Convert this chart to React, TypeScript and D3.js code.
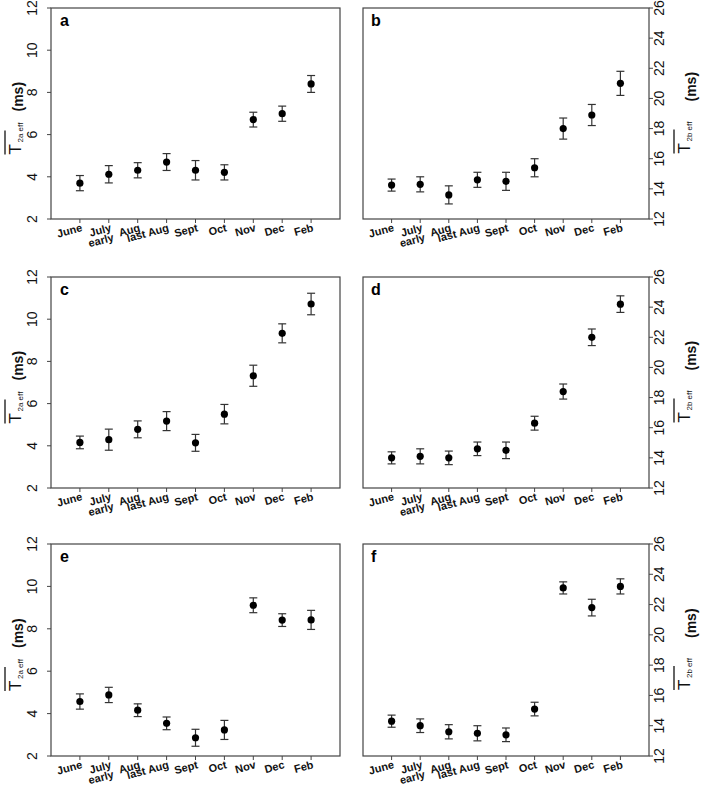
import React from "react";
import * as d3 from "d3";

// category labels (multi-line ones are split into lines)
const months: string[][] = [
  ["June"], ["July", "early"], ["Aug"], ["last Aug"], ["Sept"], ["Oct"], ["Nov"], ["Dec"], ["Feb"]
];

const ticksA = [2, 4, 6, 8, 10, 12];
const ticksB = [12, 14, 16, 18, 20, 22, 24, 26];

const aMean = [3.7, 4.12, 4.31, 4.7, 4.31, 4.21, 6.71, 6.99, 8.4];
const aErr = [0.36, 0.41, 0.36, 0.4, 0.46, 0.36, 0.35, 0.36, 0.4];
const bMean = [14.25, 14.3, 13.6, 14.6, 14.5, 15.4, 18.0, 18.9, 21.0];
const bErr = [0.4, 0.5, 0.6, 0.5, 0.6, 0.6, 0.7, 0.7, 0.8];
const cMean = [4.16, 4.29, 4.78, 5.17, 4.14, 5.5, 7.32, 9.33, 10.72];
const cErr = [0.3, 0.5, 0.4, 0.45, 0.4, 0.46, 0.5, 0.45, 0.51];
const dMean = [14.0, 14.1, 14.0, 14.6, 14.5, 16.3, 18.4, 22.0, 24.2];
const dErr = [0.4, 0.5, 0.45, 0.45, 0.55, 0.46, 0.5, 0.55, 0.55];
const eMean = [4.57, 4.88, 4.16, 3.54, 2.86, 3.23, 9.11, 8.41, 8.42];
const eErr = [0.36, 0.36, 0.3, 0.3, 0.4, 0.45, 0.35, 0.3, 0.45];
const fMean = [14.3, 14.0, 13.6, 13.5, 13.4, 15.1, 23.1, 21.8, 23.2];
const fErr = [0.4, 0.45, 0.47, 0.5, 0.45, 0.45, 0.4, 0.55, 0.5];

const FONT = "'Liberation Sans', Arial, sans-serif";
const AXIS = "#444";

type PanelProps = {
  letter: string;
  x0: number; x1: number; y0: number; y1: number;
  side: "left" | "right";
  mean: number[]; err: number[];
  ticks: number[];
  sub: string;
};

function Panel({ letter, x0, x1, y0, y1, side, mean, err, ticks, sub }: PanelProps) {
  const x = d3.scaleLinear().domain([0, months.length + 1]).range([x0, x1]);
  const y = d3.scaleLinear().domain([ticks[0], ticks[ticks.length - 1]]).range([y1, y0]);
  const axisX = side === "left" ? x0 : x1;
  const dir = side === "left" ? -1 : 1;
  const labelBase = side === "left" ? x0 - 14 : x1 + 15;
  const cy = (y0 + y1) / 2;

  // y title: T with overline, subscript, then (ms)  (screen x of baselines, y offsets from centre)
  const ttl = side === "left"
    ? { ms: 23, t: 21, sub: 23, over: 5, tY: 41, subY: 29, msY: -2 }
    : { ms: 696, t: 690, sub: 692, over: 674, tY: 40, subY: 28, msY: -12 };

  return (
    <g>
      <rect x={x0} y={y0} width={x1 - x0} height={y1 - y0} fill="none" stroke={AXIS} strokeWidth={1.2} />
      <text x={x0 + (side === "left" ? 9 : 8)} y={y0 + 18} fontSize={16} fontWeight="bold" fontFamily={FONT}>{letter}</text>

      {ticks.map(t => (
        <g key={t}>
          <line x1={axisX} x2={axisX + dir * 4} y1={y(t)} y2={y(t)} stroke={AXIS} strokeWidth={1} />
          <text transform={`translate(${labelBase},${y(t)}) rotate(-90)`} textAnchor="middle"
            fontSize={14} fontFamily={FONT} fill="#111">{t}</text>
        </g>
      ))}

      {months.map((m, i) => {
        const px = x(i + 1);
        return (
          <g key={i}>
            <line x1={px} x2={px} y1={y1} y2={y1 + 4} stroke={AXIS} strokeWidth={1} />
            <text transform={`translate(${px + 3},${y1 + 12}) rotate(-15)`} textAnchor="end"
              fontSize={11} fontWeight="bold" fontFamily={FONT} fill="#111">
              {m.map((ln, k) => (
                <tspan key={k} x={0} dy={k === 0 ? 0 : 10}>{ln}</tspan>
              ))}
            </text>
          </g>
        );
      })}

      {mean.map((v, i) => {
        const px = x(i + 1);
        const top = y(v + err[i]);
        const bot = y(v - err[i]);
        return (
          <g key={i}>
            <line x1={px} x2={px} y1={top} y2={bot} stroke="#333" strokeWidth={1.2} />
            <line x1={px - 4} x2={px + 4} y1={top} y2={top} stroke="#333" strokeWidth={1.2} />
            <line x1={px - 4} x2={px + 4} y1={bot} y2={bot} stroke="#333" strokeWidth={1.2} />
            <circle cx={px} cy={y(v)} r={3.6} fill="#000" />
          </g>
        );
      })}

      <g fontFamily={FONT} fill="#111">
        <text transform={`translate(${ttl.ms},${cy + ttl.msY}) rotate(-90)`} fontSize={14} fontWeight="bold">(ms)</text>
        <text transform={`translate(${ttl.t},${cy + ttl.tY}) rotate(-90)`} fontSize={17}>T</text>
        <text transform={`translate(${ttl.sub},${cy + ttl.subY}) rotate(-90)`} fontSize={8}>{sub}</text>
        <line x1={ttl.over} x2={ttl.over} y1={cy + ttl.tY} y2={cy + ttl.tY - 24} stroke="#111" strokeWidth={1.3} />
      </g>
    </g>
  );
}

export default function App() {
  const L = [51, 340];
  const R = [363, 649];
  const rows = [[8, 219], [277, 488], [544, 756]];
  return (
    <svg width={702} height={788} style={{ position: "absolute", left: 0, top: 0, background: "#fff" }}>
      <Panel letter="a" x0={L[0]} x1={L[1]} y0={rows[0][0]} y1={rows[0][1]} side="left" mean={aMean} err={aErr} ticks={ticksA} sub="2a eff" />
      <Panel letter="b" x0={R[0]} x1={R[1]} y0={rows[0][0]} y1={rows[0][1]} side="right" mean={bMean} err={bErr} ticks={ticksB} sub="2b eff" />
      <Panel letter="c" x0={L[0]} x1={L[1]} y0={rows[1][0]} y1={rows[1][1]} side="left" mean={cMean} err={cErr} ticks={ticksA} sub="2a eff" />
      <Panel letter="d" x0={R[0]} x1={R[1]} y0={rows[1][0]} y1={rows[1][1]} side="right" mean={dMean} err={dErr} ticks={ticksB} sub="2b eff" />
      <Panel letter="e" x0={L[0]} x1={L[1]} y0={rows[2][0]} y1={rows[2][1]} side="left" mean={eMean} err={eErr} ticks={ticksA} sub="2a eff" />
      <Panel letter="f" x0={R[0]} x1={R[1]} y0={rows[2][0]} y1={rows[2][1]} side="right" mean={fMean} err={fErr} ticks={ticksB} sub="2b eff" />
    </svg>
  );
}
